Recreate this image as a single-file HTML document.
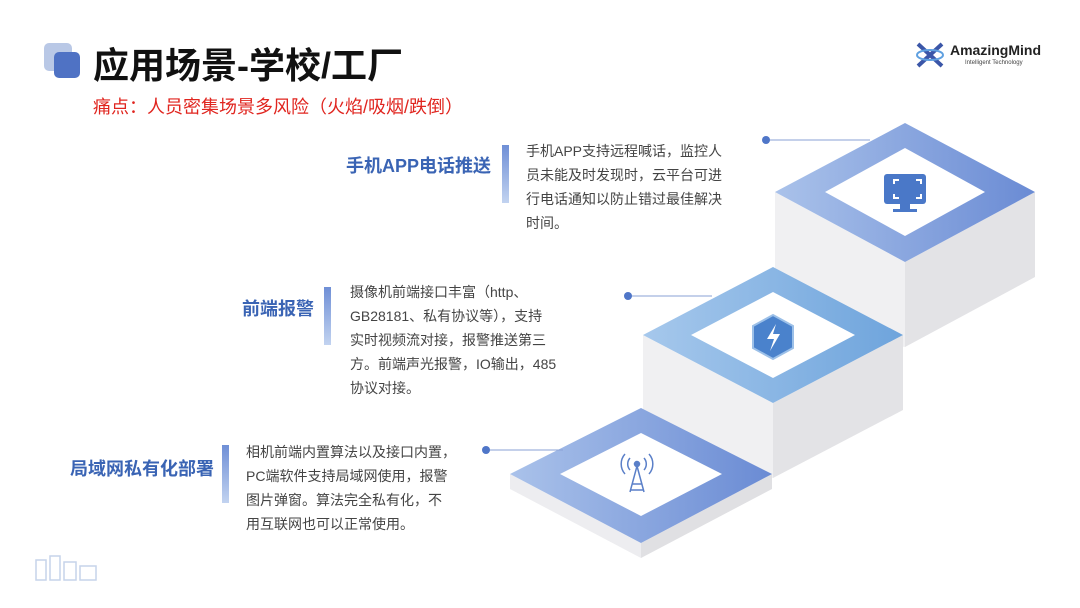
<!DOCTYPE html>
<html><head><meta charset="utf-8"><style>
body{margin:0;width:1080px;height:608px;background:#fff;position:relative;overflow:hidden;font-family:"Liberation Sans","Noto Sans CJK SC",sans-serif}
.a{position:absolute;white-space:nowrap}
.lab{font-weight:bold;color:#3a64b4;font-size:18px}
.desc{font-size:14px;color:#444;line-height:24px}
.bar{position:absolute;width:7px;background:linear-gradient(#6f8fd6,#c2d3f0)}
</style></head><body>
<div class="a" style="left:44px;top:43px;width:28px;height:28px;background:#b9c8e6;border-radius:5px"></div>
<div class="a" style="left:54px;top:52px;width:26px;height:26px;background:#4f72c4;border-radius:5px"></div>
<div class="a" style="left:93px;top:37px;font-size:36px;font-weight:bold;color:#111">应用场景-学校/工厂</div>
<div class="a" style="left:93px;top:93px;font-size:18px;color:#e0251f">痛点：人员密集场景多风险（火焰/吸烟/跌倒）</div>
<div class="a" style="left:915px;top:40px;width:30px;height:30px;">
<svg width="30" height="30"><path d="M3 4 L27 26 M27 4 L3 26" stroke="#3b56a8" stroke-width="4"/><ellipse cx="15" cy="15" rx="13" ry="5" fill="none" stroke="#5fa0e0" stroke-width="2"/></svg></div>
<div class="a" style="left:950px;top:42px;font-size:14px;font-weight:bold;color:#222">AmazingMind</div>
<div class="a" style="left:965px;top:60px;font-size:6px;color:#444">Intelligent Technology</div>

<svg class="a" style="left:0;top:0" width="1080" height="608">
<defs>
<linearGradient id="g1" x1="0" x2="1"><stop offset="0" stop-color="#aac2ea"/><stop offset="1" stop-color="#6a8bd4"/></linearGradient>
<linearGradient id="g2" x1="0" x2="1"><stop offset="0" stop-color="#a6c8ec"/><stop offset="1" stop-color="#6ea4dc"/></linearGradient>
</defs>
<!-- top block -->
<polygon points="775,192 905,262 905,347 775,330" fill="#f0f0f2"/>
<polygon points="905,262 1035,192 1035,277 905,347" fill="#e3e3e6"/>
<polygon points="905,123 1035,192 905,262 775,192" fill="url(#g1)"/>
<polygon points="905,148 985,192 905,236 825,192" fill="#fff"/>
<!-- mid block -->
<polygon points="643,335 773,403 773,478 643,460" fill="#f0f0f2"/>
<polygon points="773,403 903,335 903,410 773,478" fill="#e3e3e6"/>
<polygon points="773,267 903,335 773,403 643,335" fill="url(#g2)"/>
<polygon points="773,292 855,335 773,378 691,335" fill="#fff"/>
<!-- bottom block -->
<polygon points="510,474 641,543 641,558 510,489" fill="#ededf0"/>
<polygon points="641,543 772,474 772,489 641,558" fill="#e0e0e3"/>
<polygon points="641,408 772,474 641,543 510,474" fill="url(#g1)"/>
<polygon points="641,433 722,474 641,516 560,474" fill="#fff"/>
<!-- icons -->
<rect x="884" y="174" width="42" height="30" rx="3" fill="#4a78c8"/>
<rect x="900" y="204" width="10" height="6" fill="#4a78c8"/><rect x="893" y="209" width="24" height="3" fill="#4a78c8"/>
<path d="M894 184v-4h5 M916 180h5v4 M894 194v4h5 M921 194v4h-5" stroke="#fff" stroke-width="2" fill="none"/>
<polygon points="773,315 793,326 793,348 773,359 753,348 753,326" fill="#4a82cc" stroke="#9cc0e8" stroke-width="2"/>
<path d="M776 324 L767 339 L774 339 L770 351 L780 334 L773 334 Z" fill="#fff"/>
<g stroke="#5a7fc8" stroke-width="1.5" fill="none">
<path d="M637 466 L630 492 M637 466 L644 492 M632 484 L642 484 M631 490 L643 490"/>
<circle cx="637" cy="464" r="2.5" fill="#5a7fc8"/>
<path d="M630 458a9 9 0 0 0 0 12 M644 458a9 9 0 0 1 0 12 M625 454a15 15 0 0 0 0 20 M649 454a15 15 0 0 1 0 20"/>
</g>
<!-- connectors -->
<line x1="766" y1="140" x2="870" y2="140" stroke="#8aa2d6" stroke-width="1"/><circle cx="766" cy="140" r="4" fill="#4f76c8"/>
<line x1="628" y1="296" x2="712" y2="296" stroke="#8aa2d6" stroke-width="1"/><circle cx="628" cy="296" r="4" fill="#4f76c8"/>
<line x1="486" y1="450" x2="563" y2="450" stroke="#8aa2d6" stroke-width="1"/><circle cx="486" cy="450" r="4" fill="#4f76c8"/>
<!-- faint building -->
<g stroke="#c6d4ea" fill="none" stroke-width="1.5"><rect x="36" y="560" width="10" height="20"/><rect x="50" y="556" width="10" height="24"/><rect x="64" y="562" width="12" height="18"/><rect x="80" y="566" width="16" height="14"/></g>
</svg>

<div class="a lab" style="left:346px;top:152px">手机APP电话推送</div>
<div class="bar" style="left:502px;top:145px;height:58px"></div>
<div class="a desc" style="left:526px;top:139px">手机APP支持远程喊话，监控人<br>员未能及时发现时，云平台可进<br>行电话通知以防止错过最佳解决<br>时间。</div>

<div class="a lab" style="left:242px;top:295px">前端报警</div>
<div class="bar" style="left:324px;top:287px;height:58px"></div>
<div class="a desc" style="left:350px;top:280px">摄像机前端接口丰富（http、<br>GB28181、私有协议等），支持<br>实时视频流对接，报警推送第三<br>方。前端声光报警，IO输出，485<br>协议对接。</div>

<div class="a lab" style="left:70px;top:455px">局域网私有化部署</div>
<div class="bar" style="left:222px;top:445px;height:58px"></div>
<div class="a desc" style="left:246px;top:440px">相机前端内置算法以及接口内置，<br>PC端软件支持局域网使用，报警<br>图片弹窗。算法完全私有化，不<br>用互联网也可以正常使用。</div>
</body></html>
